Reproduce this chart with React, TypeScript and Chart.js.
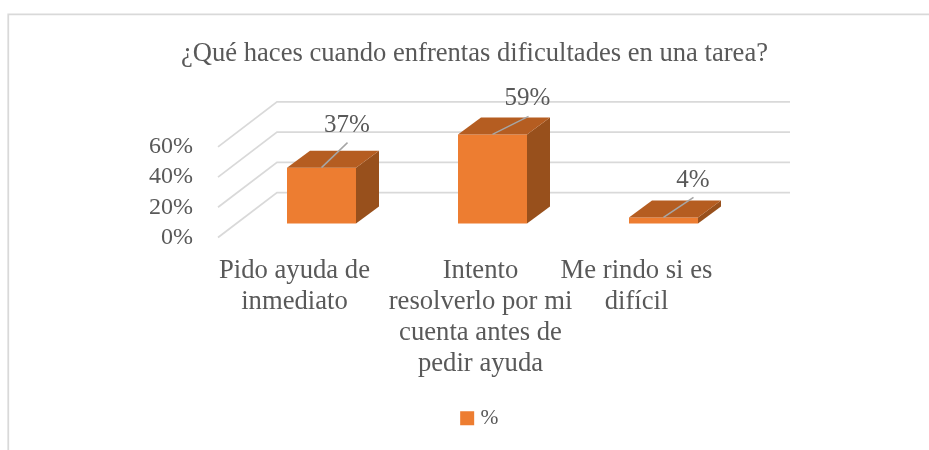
import React, { useEffect, useRef } from "react";
import { Chart, registerables } from "chart.js";

Chart.register(...registerables);

const titleText = "¿Qué haces cuando enfrentas dificultades en una tarea?";
const seriesName = "%";
const categories = [
  ["Pido ayuda de", "inmediato"],
  ["Intento", "resolverlo por mi", "cuenta antes de", "pedir ayuda"],
  ["Me rindo si es", "difícil"],
];
const values = [37, 59, 4];
const axisTicks = [0, 20, 40, 60];

const SERIF = '"Liberation Serif", "Times New Roman", serif';
const TEXT = "#595959";
const GRID = "#D9D9D9";
const FRONT = "#ED7D31";
const TOP = "#B55D21";
const SIDE = "#98501C";
const LEADER = "#A6A6A6";

const wallDepth = { x: 59, y: -45 };
const barShift = { x: 18, y: -14 };
const barDepth = { x: 23, y: -17 };
const labelShifts = [-9, 6, -9];
const leaderEnds = [[26, -25], [36, -18], [30, -20]];
const valueLabelAt = [[25.5, -42], [35, -36], [29.5, -37]];

const depthPlugin = {
  id: "depth3d",
  afterLayout(chart: any) {
    chart.scales.x.getLabelItems().forEach((item: any, i: number) => {
      item.options.translation[0] += labelShifts[i];
    });
    chart.legend.left += 14;
    chart.titleBlock.left -= 100;
    chart.titleBlock.right += 100;
  },
  beforeDraw(chart: any) {
    const { ctx, width, height } = chart;
    ctx.save();
    ctx.fillStyle = "#FFFFFF";
    ctx.fillRect(0, 0, width, height);
    ctx.strokeStyle = GRID;
    ctx.lineWidth = 1.75;
    ctx.beginPath();
    ctx.moveTo(8.25, height);
    ctx.lineTo(8.25, 14.25);
    ctx.lineTo(width, 14.25);
    ctx.stroke();
    ctx.restore();
  },
  beforeDatasetsDraw(chart: any) {
    const { ctx, chartArea, scales } = chart;
    ctx.save();
    ctx.strokeStyle = GRID;
    ctx.lineWidth = 1.75;
    axisTicks.forEach((t) => {
      const y = scales.y.getPixelForValue(t);
      ctx.beginPath();
      ctx.moveTo(chartArea.left, y);
      ctx.lineTo(chartArea.left + wallDepth.x, y + wallDepth.y);
      ctx.lineTo(chartArea.right + wallDepth.x, y + wallDepth.y);
      ctx.stroke();
    });
    ctx.restore();
  },
  beforeDatasetDraw(chart: any) {
    chart.ctx.save();
    chart.ctx.translate(barShift.x, barShift.y);
  },
  afterDatasetDraw(chart: any) {
    chart.ctx.restore();
  },
  afterDatasetsDraw(chart: any) {
    const { ctx } = chart;
    const bars = chart.getDatasetMeta(0).data;
    bars.forEach((bar: any, i: number) => {
      const cx = bar.x + barShift.x;
      const l = cx - bar.width / 2;
      const r = cx + bar.width / 2;
      const t = bar.y + barShift.y;
      const b = bar.base + barShift.y;
      ctx.save();
      ctx.fillStyle = SIDE;
      ctx.beginPath();
      ctx.moveTo(r, t);
      ctx.lineTo(r + barDepth.x, t + barDepth.y);
      ctx.lineTo(r + barDepth.x, b + barDepth.y);
      ctx.lineTo(r, b);
      ctx.closePath();
      ctx.fill();
      ctx.fillStyle = TOP;
      ctx.beginPath();
      ctx.moveTo(l, t);
      ctx.lineTo(l + barDepth.x, t + barDepth.y);
      ctx.lineTo(r + barDepth.x, t + barDepth.y);
      ctx.lineTo(r, t);
      ctx.closePath();
      ctx.fill();
      ctx.strokeStyle = LEADER;
      ctx.lineWidth = 1.5;
      ctx.beginPath();
      ctx.moveTo(cx, t);
      ctx.lineTo(cx + leaderEnds[i][0], t + leaderEnds[i][1]);
      ctx.stroke();
      ctx.fillStyle = TEXT;
      ctx.font = `25px ${SERIF}`;
      ctx.textAlign = "center";
      ctx.textBaseline = "middle";
      ctx.fillText(`${values[i]}%`, cx + valueLabelAt[i][0], t + valueLabelAt[i][1]);
      ctx.restore();
    });
  },
};

export default function App() {
  const ref = useRef<HTMLCanvasElement>(null);
  useEffect(() => {
    const chart = new Chart(ref.current as HTMLCanvasElement, {
      type: "bar",
      data: {
        labels: categories,
        datasets: [
          {
            label: seriesName,
            data: values,
            backgroundColor: FRONT,
            borderWidth: 0,
            barPercentage: 0.4035,
            categoryPercentage: 1,
            clip: false,
          } as any,
        ],
      },
      plugins: [depthPlugin],
      options: {
        responsive: false,
        animation: false,
        layout: { padding: { left: 0, right: 198, top: 0, bottom: 11 } },
        plugins: {
          tooltip: { enabled: false },
          title: {
            display: true,
            text: titleText,
            fullSize: false,
            color: TEXT,
            font: { family: SERIF, size: 26.6, weight: "normal", lineHeight: 1.2 },
            padding: { top: 38, bottom: 77 },
          },
          legend: {
            position: "bottom",
            fullSize: false,
            labels: {
              color: TEXT,
              font: { family: SERIF, size: 21.5 },
              usePointStyle: true,
              pointStyle: "rect",
              boxWidth: 5,
              boxHeight: 14,
              padding: 0,
            },
          },
        },
        scales: {
          x: {
            grid: { display: false },
            border: { display: false },
            afterFit: (s: any) => {
              s.height = 170;
            },
            ticks: {
              color: TEXT,
              font: { family: SERIF, size: 26.67, lineHeight: 1.16 },
              padding: 10,
              autoSkip: false,
              maxRotation: 0,
              minRotation: 0,
            },
          },
          y: {
            min: 0,
            max: 60,
            grid: { display: false },
            border: { display: false },
            afterFit: (s: any) => {
              s.width = 218;
            },
            ticks: {
              stepSize: 20,
              autoSkip: false,
              color: TEXT,
              font: { family: SERIF, size: 24 },
              padding: 17,
              callback: (v: any) => `${v}%`,
            },
          },
        },
      },
    } as any);
    return () => chart.destroy();
  }, []);
  return (
    <canvas
      ref={ref}
      width={929}
      height={450}
      style={{ position: "absolute", left: 0, top: 0, display: "block" }}
    />
  );
}
